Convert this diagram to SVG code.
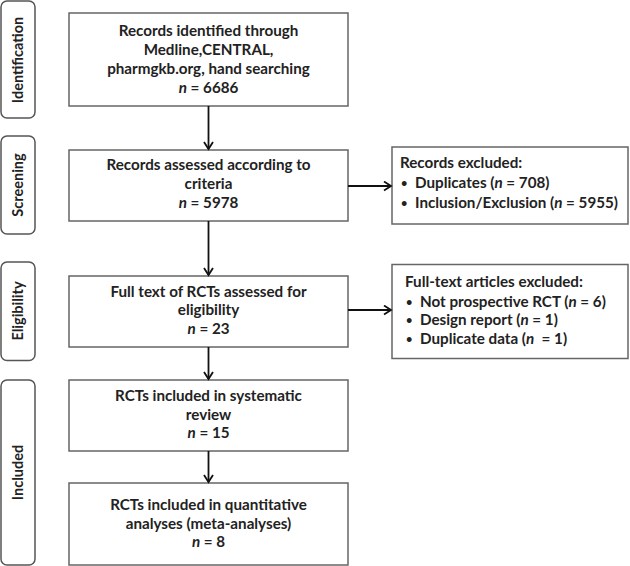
<svg xmlns="http://www.w3.org/2000/svg" width="630" height="566" viewBox="0 0 630 566">
<defs>
<marker id="ah" markerWidth="12" markerHeight="12" refX="9" refY="5" orient="auto" markerUnits="userSpaceOnUse">
<path d="M2,0.5 L9,5 L2,9.5" fill="none" stroke="#111" stroke-width="1.8"/>
</marker>
<style>
.side{fill:#fff;stroke:#555;stroke-width:1.5}
.box{fill:#fff;stroke:#666;stroke-width:1.5}
.t{font-family:Lato,"Open Sans","Liberation Sans",sans-serif;font-weight:bold;font-size:15.2px;fill:#222}
.s{font-size:14.5px}
.b{font-size:11px}
.c{text-anchor:middle}
.i{font-style:italic}
.conn{stroke:#111;stroke-width:1.8;fill:none;marker-end:url(#ah)}
</style>
</defs>
<rect width="630" height="566" fill="#fff"/>
<g id="stage-identification">
<rect class="side" x="1" y="1" width="34" height="117" rx="6"/>
<text class="t s c" transform="translate(23,60) rotate(-90)">Identification</text>
</g>
<g id="stage-screening">
<rect class="side" x="1" y="136" width="34" height="98" rx="6"/>
<text class="t s c" transform="translate(23,185) rotate(-90)">Screening</text>
</g>
<g id="stage-eligibility">
<rect class="side" x="1" y="262" width="34" height="98.5" rx="6"/>
<text class="t s c" transform="translate(23,311) rotate(-90)">Eligibility</text>
</g>
<g id="stage-included">
<rect class="side" x="1" y="380" width="34" height="185" rx="6"/>
<text class="t s c" transform="translate(23,472.5) rotate(-90)">Included</text>
</g>
<g id="identified">
<rect class="box" x="69" y="13" width="279" height="93"/>
<text class="t c" x="208.5" y="36">Records identified through</text>
<text class="t c" x="208.5" y="55">Medline,CENTRAL,</text>
<text class="t c" x="208.5" y="74">pharmgkb.org, hand searching</text>
<text class="t c" x="208.5" y="92.5"><tspan class="i">n</tspan> = 6686</text>
</g>
<g id="screened">
<rect class="box" x="69" y="150" width="279" height="71"/>
<text class="t c" x="208.5" y="170">Records assessed according to</text>
<text class="t c" x="208.5" y="189">criteria</text>
<text class="t c" x="208.5" y="208"><tspan class="i">n</tspan> = 5978</text>
</g>
<g id="records-excluded">
<rect class="box" x="392" y="147" width="236" height="77"/>
<text class="t" x="400" y="168">Records excluded:</text>
<text class="t b" x="401" y="187">•</text>
<text class="t" x="415" y="188">Duplicates (<tspan class="i">n</tspan> = 708)</text>
<text class="t b" x="401" y="207">•</text>
<text class="t" x="415" y="208">Inclusion/Exclusion (<tspan class="i">n</tspan> = 5955)</text>
</g>
<g id="eligible">
<rect class="box" x="69" y="276" width="279" height="71"/>
<text class="t c" x="208.5" y="296.5">Full text of RCTs assessed for</text>
<text class="t c" x="208.5" y="315">eligibility</text>
<text class="t c" x="208.5" y="334"><tspan class="i">n</tspan> = 23</text>
</g>
<g id="fulltext-excluded">
<rect class="box" x="392" y="264.5" width="236" height="94"/>
<text class="t" x="405" y="286.5">Full-text articles excluded:</text>
<text class="t b" x="406" y="305.5">•</text>
<text class="t" x="420" y="306.5">Not prospective RCT (<tspan class="i">n</tspan> = 6)</text>
<text class="t b" x="406" y="324">•</text>
<text class="t" x="420" y="325">Design report (<tspan class="i">n</tspan> = 1)</text>
<text class="t b" x="406" y="342.5">•</text>
<text class="t" x="420" y="343.5">Duplicate data (<tspan class="i">n</tspan>&#160; = 1)</text>
</g>
<g id="included-review">
<rect class="box" x="69" y="380" width="279" height="71"/>
<text class="t c" x="208.5" y="400.5">RCTs included in systematic</text>
<text class="t c" x="208.5" y="420">review</text>
<text class="t c" x="208.5" y="438"><tspan class="i">n</tspan> = 15</text>
</g>
<g id="included-meta">
<rect class="box" x="69" y="483" width="279" height="82"/>
<text class="t c" x="208.5" y="510">RCTs included in quantitative</text>
<text class="t c" x="208.5" y="529">analyses (meta-analyses)</text>
<text class="t c" x="208.5" y="547"><tspan class="i">n</tspan> = 8</text>
</g>
<g id="connectors">
<line class="conn" x1="208.5" y1="106" x2="208.5" y2="149"/>
<line class="conn" x1="208.5" y1="221" x2="208.5" y2="275"/>
<line class="conn" x1="208.5" y1="347" x2="208.5" y2="379"/>
<line class="conn" x1="208.5" y1="451" x2="208.5" y2="482"/>
<line class="conn" x1="348" y1="186" x2="391" y2="186"/>
<line class="conn" x1="348" y1="310" x2="391" y2="310"/>
</g>
</svg>
